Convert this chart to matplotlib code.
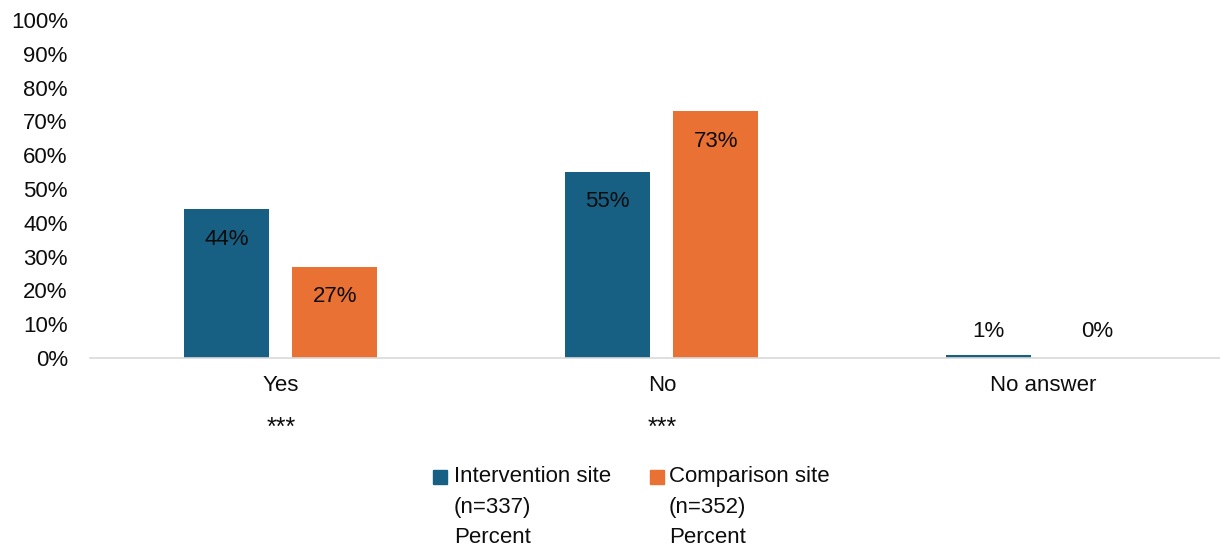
import matplotlib.pyplot as plt
import numpy as np
from matplotlib.patches import Rectangle

plt.rcParams['font.family'] = ['Liberation Sans', 'DejaVu Sans']

categories = ["Yes", "No", "No answer"]
significance = ["***", "***", ""]
intervention = [44, 55, 1]
comparison = [27, 73, 0]
series_names = ["Intervention site\n(n=337)\nPercent", "Comparison site\n(n=352)\nPercent"]
colors = ["#185F84", "#E97133"]
txt = "#0d0d0d"

fig = plt.figure(figsize=(12.2, 5.48), dpi=100)
ax = fig.add_axes([90 / 1220, 1 - 358 / 548, 1130 / 1220, 338 / 548])

x = np.arange(len(categories))
w = 0.223
off = 0.142
b1 = ax.bar(x - off, intervention, w, color=colors[0])
b2 = ax.bar(x + off, comparison, w, color=colors[1])

# value labels: inside near the top for tall bars, above the axis for tiny ones
for bars, vals in [(b1, intervention), (b2, comparison)]:
    for bar, v in zip(bars, vals):
        cx = bar.get_x() + bar.get_width() / 2
        if v >= 5:
            ax.annotate(f"{v}%", (cx, v), xytext=(0, -21.5), textcoords="offset points",
                        ha="center", va="center", fontsize=16, color=txt)
        else:
            ax.annotate(f"{v}%", (cx, 0), xytext=(0, 19), textcoords="offset points",
                        ha="center", va="center", fontsize=16, color=txt)

ax.set_ylim(0, 100)
ax.set_xlim(-0.501, 2.465)
ax.set_yticks(range(0, 101, 10))
ax.set_yticklabels([f"{t}%" for t in range(0, 101, 10)], fontsize=16, color=txt)
ax.set_xticks(x)
ax.set_xticklabels(categories, fontsize=16, color=txt)
ax.tick_params(axis="both", length=0)
ax.tick_params(axis="x", pad=12)
ax.tick_params(axis="y", pad=16)

# significance stars under the category names
for xi, s in zip(x, significance):
    ax.annotate(s, (xi, 0), xytext=(0, -50), textcoords="offset points",
                ha="center", va="center", fontsize=18, color=txt)

for s in ["top", "right", "left"]:
    ax.spines[s].set_visible(False)
ax.spines["bottom"].set_color("#d9d9d9")
ax.spines["bottom"].set_linewidth(1.2)

# legend drawn by hand so the swatch sits at the first line
W, H = 1220, 548
for (mx, tx), name, c in zip([(433, 454), (650, 669)], series_names, colors):
    fig.patches.append(Rectangle((mx / W, 1 - 484 / H), 14 / W, 14 / H,
                                 transform=fig.transFigure, color=c))
    fig.text(tx / W, 1 - 466 / H, name, fontsize=16, color=txt,
             va="top", ha="left", linespacing=1.6)

plt.savefig("out.png", dpi=100)
